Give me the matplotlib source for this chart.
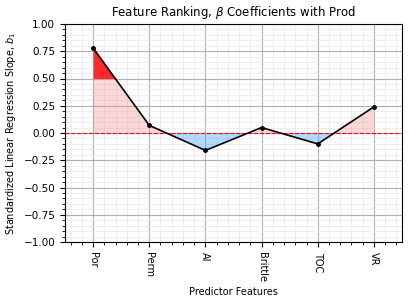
import matplotlib
matplotlib.use("Agg")
import matplotlib.pyplot as plt
import numpy as np
from matplotlib.ticker import MultipleLocator

features = ['Por', 'Perm', 'AI', 'Brittle', 'TOC', 'VR']
coefs = [0.78, 0.07, -0.16, 0.05, -0.10, 0.24]

fig = plt.figure(figsize=(4.08, 3.04), dpi=100)
ax = fig.add_axes([65/408, 1-242/304, 337/408, 218/304])

x = np.arange(len(features))
y = np.array(coefs)

ax.fill_between(x, 0, y, where=y >= 0, interpolate=True, color='lightcoral', alpha=0.3, linewidth=0)
ax.fill_between(x, 0, y, where=y <= 0, interpolate=True, color='dodgerblue', alpha=0.33, linewidth=0)
ax.fill_between(x, 0.5, y, where=y >= 0.5, interpolate=True, color='red', alpha=0.8, linewidth=0)
ax.plot(x, y, color='black', linewidth=1.2, marker='o', markersize=2.5, zorder=5)
ax.axhline(0, color='red', linestyle='--', linewidth=0.8, zorder=4)

ax.set_xlim(-0.5, 5.5)
ax.set_ylim(-1, 1)
ax.set_xticks(x)
ax.set_xticklabels(features, rotation=-90, fontsize=7)
ax.xaxis.set_minor_locator(MultipleLocator(0.2))
ax.yaxis.set_major_locator(MultipleLocator(0.25))
ax.yaxis.set_minor_locator(MultipleLocator(0.05))
ax.tick_params(axis='y', labelsize=7.5)
ax.grid(which='major', color='#b0b0b0', linewidth=0.8)
ax.grid(which='minor', color='#e8e8e8', linewidth=0.5)
ax.set_axisbelow(True)

ax.set_title(r'Feature Ranking, $\beta$ Coefficients with Prod', fontsize=8.5)
ax.set_xlabel('Predictor Features', fontsize=7)
ax.set_ylabel(r'Standardized Linear Regression Slope, $b_1$', fontsize=7)

fig.savefig('out.png', dpi=100)
